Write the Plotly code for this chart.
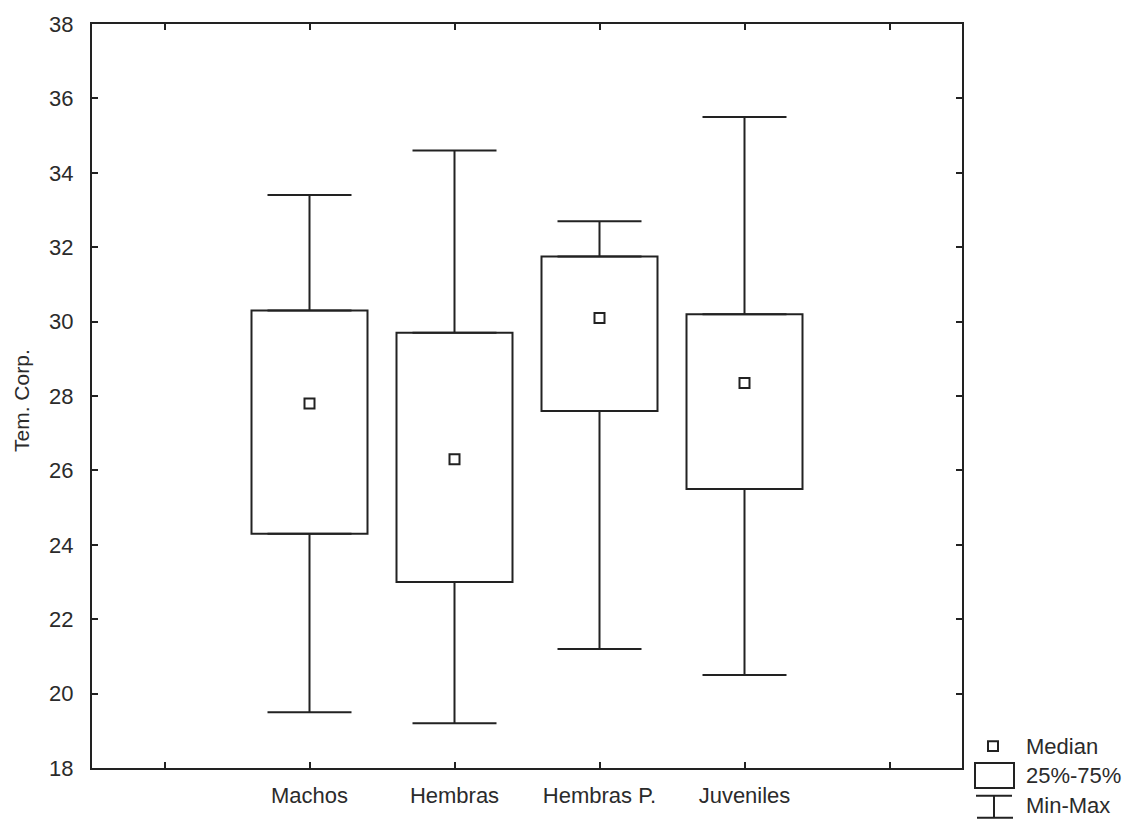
import plotly.graph_objects as go

# Data
categories = ["Machos", "Hembras", "Hembras P.", "Juveniles"]
minimum = [19.5, 19.2, 21.2, 20.5]
q1 = [24.3, 23.0, 27.6, 25.5]
median = [27.8, 26.3, 30.1, 28.35]
q3 = [30.3, 29.7, 31.75, 30.2]
maximum = [33.4, 34.6, 32.7, 35.5]
y_ticks = [18, 20, 22, 24, 26, 28, 30, 32, 34, 36, 38]

xpos = list(range(1, len(categories) + 1))
LC = "#222222"
TC = "#2b2b2b"
FONT = "Liberation Sans, Arial, sans-serif"

fig = go.Figure()

# boxes (25%-75%)
fig.add_trace(go.Bar(
    x=xpos, base=q1, y=[b - a for a, b in zip(q1, q3)], width=0.8,
    marker=dict(color="white", line=dict(color=LC, width=2)),
    showlegend=False, hoverinfo="skip"))

# upper whiskers
fig.add_trace(go.Scatter(
    x=xpos, y=q3, mode="markers", marker=dict(size=0.1, color=LC),
    error_y=dict(type="data", symmetric=False,
                 array=[m - b for m, b in zip(maximum, q3)],
                 arrayminus=[0] * len(q3), width=42, thickness=2, color=LC),
    showlegend=False, hoverinfo="skip"))
# lower whiskers
fig.add_trace(go.Scatter(
    x=xpos, y=q1, mode="markers", marker=dict(size=0.1, color=LC),
    error_y=dict(type="data", symmetric=False,
                 array=[0] * len(q1),
                 arrayminus=[a - m for a, m in zip(q1, minimum)],
                 width=42, thickness=2, color=LC),
    showlegend=False, hoverinfo="skip"))
# medians
fig.add_trace(go.Scatter(
    x=xpos, y=median, mode="markers",
    marker=dict(symbol="square-open", size=10, color=LC, line=dict(width=2)),
    showlegend=False))

# legend (manual)
L, T, W, H = 92, 20, 870, 748
def px(x):
    return (x - L) / W
def py(y):
    return (T + H - y) / H

shapes = [
    dict(type="rect", xref="paper", yref="paper", x0=px(988), x1=px(998), y0=py(751), y1=py(741),
         line=dict(color=LC, width=2)),
    dict(type="rect", xref="paper", yref="paper", x0=px(975), x1=px(1014), y0=py(788), y1=py(763),
         line=dict(color=LC, width=2)),
    dict(type="line", xref="paper", yref="paper", x0=px(976), x1=px(1012), y0=py(796), y1=py(796),
         line=dict(color=LC, width=2)),
    dict(type="line", xref="paper", yref="paper", x0=px(994), x1=px(994), y0=py(796), y1=py(818),
         line=dict(color=LC, width=2)),
    dict(type="line", xref="paper", yref="paper", x0=px(977), x1=px(1013), y0=py(818), y1=py(818),
         line=dict(color=LC, width=2)),
]
annotations = []
for label, yy in [("Median", 746), ("25%-75%", 776), ("Min-Max", 806)]:
    annotations.append(dict(text=label, xref="paper", yref="paper", x=px(1024), y=py(yy),
                            xanchor="left", yanchor="middle", showarrow=False,
                            font=dict(family=FONT, size=22, color=TC)))
annotations.append(dict(text="Tem. Corp.", xref="paper", yref="paper", x=px(22), y=py(399),
                        xanchor="center", yanchor="middle", textangle=-90, showarrow=False,
                        font=dict(family=FONT, size=21, color=TC)))

fig.update_layout(
    width=1135, height=824,
    margin=dict(l=L, r=1135 - L - W, t=T, b=824 - T - H),
    plot_bgcolor="white", paper_bgcolor="white",
    showlegend=False, shapes=shapes, annotations=annotations,
    font=dict(family=FONT, size=22, color=TC),
)
fig.update_xaxes(
    range=[-0.5, len(categories) + 1.5],
    tickvals=list(range(0, len(categories) + 2)),
    ticktext=[""] + categories + [""],
    showgrid=False, zeroline=False,
    showline=True, linecolor=LC, linewidth=2, mirror="ticks",
    ticks="inside", ticklen=6, tickwidth=2, tickcolor=LC,
    tickfont=dict(family=FONT, size=22, color=TC), ticklabelstandoff=7,
)
fig.update_yaxes(
    range=[18, 38], tickvals=y_ticks,
    showgrid=False, zeroline=False,
    showline=True, linecolor=LC, linewidth=2, mirror="ticks",
    ticks="inside", ticklen=6, tickwidth=2, tickcolor=LC,
    tickfont=dict(family=FONT, size=22, color=TC), ticklabelstandoff=12,
)

fig.write_html("out.html")
